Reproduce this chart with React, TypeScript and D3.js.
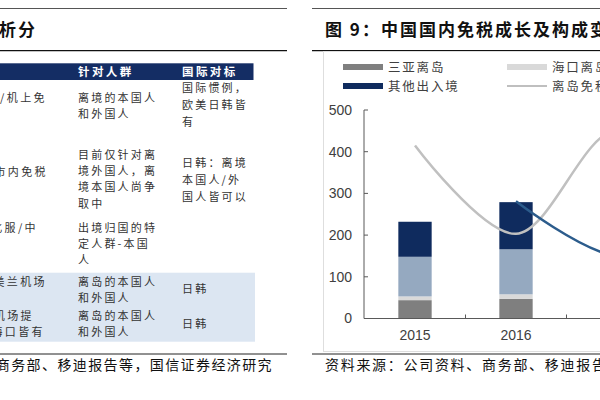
import React from "react";
import * as d3 from "d3";

// chart data (亿元); 2017/2018 fall outside the crop
const years = ["2015", "2016", "2017", "2018"];
const sanya = [44, 47, 60, 70];
const haikou = [9, 11, 12, 14];
const cdfOutbound = [95, 108, 120, 135];
const otherOutbound = [84, 113, 135, 150];
const islandGrowth = [415, 203, 450, 180];
const totalGrowth: (number | null)[] = [null, 281, 150, 220];
const yTicks = [0, 100, 200, 300, 400, 500];

const seriesKeys = ["sanya", "haikou", "cdf", "other"];
const seriesColors = ["#7f7f7f", "#d9d9d9", "#95a9c0", "#0f2b5e"];
const legendLabels = ["三亚离岛", "海口离岛免税", "其他出入境", "离岛免税增速"];

// table text
const headers = ["针对人群", "国际对标"];
const col1 = [["口岸/机上免"], ["市内免税"], ["北服/中"], ["海口美兰机场"], ["机场提", "海口皆有"]];
const col2 = [
  ["离境的本国人", "和外国人"],
  ["目前仅针对离", "境外国人，离", "境本国人尚争", "取中"],
  ["出境归国的特", "定人群-本国", "人"],
  ["离岛的本国人", "和外国人"],
  ["离岛的本国人", "和外国人"],
];
const col3 = [["国际惯例，", "欧美日韩皆", "有"], ["日韩：离境", "本国人/外", "国人皆可以"], [], ["日韩"], ["日韩"]];

// first-line centre of each cell (layout only)
const rowY = [
  [98, 98, 88],
  [172, 155, 163],
  [228, 228, 0],
  [282, 282, 289],
  [316, 316, 324],
];
// right end of the first column's lines
const col1End = [[47], [48], [38], [47], [34, 45]];

const cjk = "'Noto Sans CJK SC', sans-serif";
const latin = "'Liberation Sans', Arial, sans-serif";

const App = () => {
  const table = years.map((yr, i) => ({
    year: yr,
    sanya: sanya[i],
    haikou: haikou[i],
    cdf: cdfOutbound[i],
    other: otherOutbound[i],
  }));
  const stacked = d3.stack<any>().keys(seriesKeys)(table);

  const x = d3.scaleBand().domain(years).range([364.5, 364.5 + 101 * years.length]).padding(0);
  const y = d3.scaleLinear().domain([0, 500]).range([318.5, 110]);
  const barW = x.bandwidth() * 0.33;
  const cx = (yr: string) => (x(yr) as number) + x.bandwidth() / 2;

  const line = d3
    .line<[string, number | null]>()
    .defined((d) => d[1] != null)
    .x((d) => cx(d[0]))
    .y((d) => y(d[1] as number))
    .curve(d3.curveCatmullRom.alpha(0.5));

  const lh = 16.2;

  return (
    <svg width={600} height={400} style={{ position: "fixed", left: 0, top: 0, background: "#fff" }}>
      {/* rules */}
      <line x1={0} x2={287} y1={8.5} y2={8.5} stroke="#555" strokeWidth={1} />
      <line x1={312} x2={600} y1={8.5} y2={8.5} stroke="#555" strokeWidth={1} />
      <line x1={0} x2={287} y1={50.7} y2={50.7} stroke="#111" strokeWidth={1.3} />
      <line x1={312} x2={600} y1={50.7} y2={50.7} stroke="#111" strokeWidth={1.3} />
      <line x1={0} x2={287} y1={354} y2={354} stroke="#222" strokeWidth={1} />
      <line x1={312} x2={600} y1={354} y2={354} stroke="#222" strokeWidth={1} />

      {/* titles */}
      <text x={-1} y={36} fontFamily={cjk} fontWeight={700} fontSize={17} fill="#111" style={{ letterSpacing: 2 }}>
        析分
      </text>
      <text x={325} y={36} fontFamily={cjk} fontWeight={700} fontSize={17} fill="#111" style={{ letterSpacing: 2 }}>
        图 9：中国国内免税成长及构成变化
      </text>

      {/* table */}
      <rect x={0} y={63.3} width={253.5} height={16.7} fill="#142d64" />
      <rect x={0} y={272.7} width={255} height={69} fill="#dce6f2" />
      {headers.map((h, i) => (
        <text key={h} x={[78, 182][i]} y={76} fontFamily={cjk} fontWeight={700} fontSize={11.5} fill="#fff" style={{ letterSpacing: 2.4 }}>
          {h}
        </text>
      ))}
      {col1.map((lines, r) =>
        lines.map((t, k) => (
          <text key={`a${r}${k}`} x={col1End[r][k]} y={rowY[r][0] + 4 + k * lh} textAnchor="end" fontFamily={cjk} fontSize={11} fill="#333" style={{ letterSpacing: 2.4 }}>
            {t}
          </text>
        ))
      )}
      {col2.map((lines, r) =>
        lines.map((t, k) => (
          <text key={`b${r}${k}`} x={78} y={rowY[r][1] + 4 + k * lh} fontFamily={cjk} fontSize={11} fill="#333" style={{ letterSpacing: 2.2 }}>
            {t}
          </text>
        ))
      )}
      {col3.map((lines, r) =>
        lines.map((t, k) => (
          <text key={`c${r}${k}`} x={182} y={rowY[r][2] + 4 + k * 17} fontFamily={cjk} fontSize={11} fill="#333" style={{ letterSpacing: 2.2 }}>
            {t}
          </text>
        ))
      )}

      {/* sources */}
      <text x={273} y={370} textAnchor="end" fontFamily={cjk} fontSize={14} fill="#111" style={{ letterSpacing: 1.4 }}>
        资料来源：公司资料、商务部、移迪报告等，国信证券经济研究
      </text>
      <text x={325} y={370} fontFamily={cjk} fontSize={14} fill="#111" style={{ letterSpacing: 1.7 }}>
        资料来源：公司资料、商务部、移迪报告等，国信证券经济研究所整理
      </text>

      {/* chart frame */}
      <rect x={323.5} y={51.5} width={400} height={300} fill="none" stroke="#dedede" strokeWidth={1} />

      {/* legend */}
      {legendLabels.map((lab, i) => {
        const lx = [343, 507][i % 2];
        const ly = [67, 86][Math.floor(i / 2)];
        return (
          <g key={lab}>
            {i < 3 ? (
              <rect x={lx} y={ly - 3} width={40} height={6} fill={seriesColors[i === 2 ? 3 : i]} />
            ) : (
              <line x1={lx} x2={lx + 40} y1={ly} y2={ly} stroke="#bfbfbf" strokeWidth={2} />
            )}
            <text x={lx + 45} y={ly + 4.5} fontFamily={cjk} fontSize={12.5} fill="#404040" style={{ letterSpacing: 1.8 }}>
              {lab}
            </text>
          </g>
        );
      })}

      {/* bars */}
      {stacked.map((s, si) => (
        <g key={s.key} fill={seriesColors[si]}>
          {s.map((d: any) => (
            <rect
              key={d.data.year}
              x={(x(d.data.year) as number) + (x.bandwidth() - barW) / 2}
              y={y(d[1])}
              width={barW}
              height={y(d[0]) - y(d[1])}
            />
          ))}
        </g>
      ))}

      {/* lines */}
      <path d={line(years.map((yr, i) => [yr, islandGrowth[i]])) || ""} fill="none" stroke="#c0c0c0" strokeWidth={2.5} />
      <path d={line(years.map((yr, i) => [yr, totalGrowth[i]])) || ""} fill="none" stroke="#2c5c8c" strokeWidth={2.5} />

      {/* axes */}
      <line x1={364} x2={364} y1={y(0)} y2={y(500)} stroke="#595959" strokeWidth={1} />
      {yTicks.map((t) => (
        <g key={t}>
          <line x1={364} x2={368} y1={y(t)} y2={y(t)} stroke="#595959" />
          <text x={352} y={y(t)} dy="0.35em" textAnchor="end" fontFamily={latin} fontSize={14} fill="#404040">
            {t}
          </text>
        </g>
      ))}
      <line x1={364} x2={600} y1={y(0)} y2={y(0)} stroke="#595959" strokeWidth={1} />
      {years.map((yr, i) => (
        <g key={yr}>
          {i > 0 && <line x1={x(yr) as number} x2={x(yr) as number} y1={y(0)} y2={y(0) - 4} stroke="#595959" />}
          <text x={cx(yr)} y={340} textAnchor="middle" fontFamily={latin} fontSize={14} fill="#404040">
            {yr}
          </text>
        </g>
      ))}
    </svg>
  );
};

export default App;
